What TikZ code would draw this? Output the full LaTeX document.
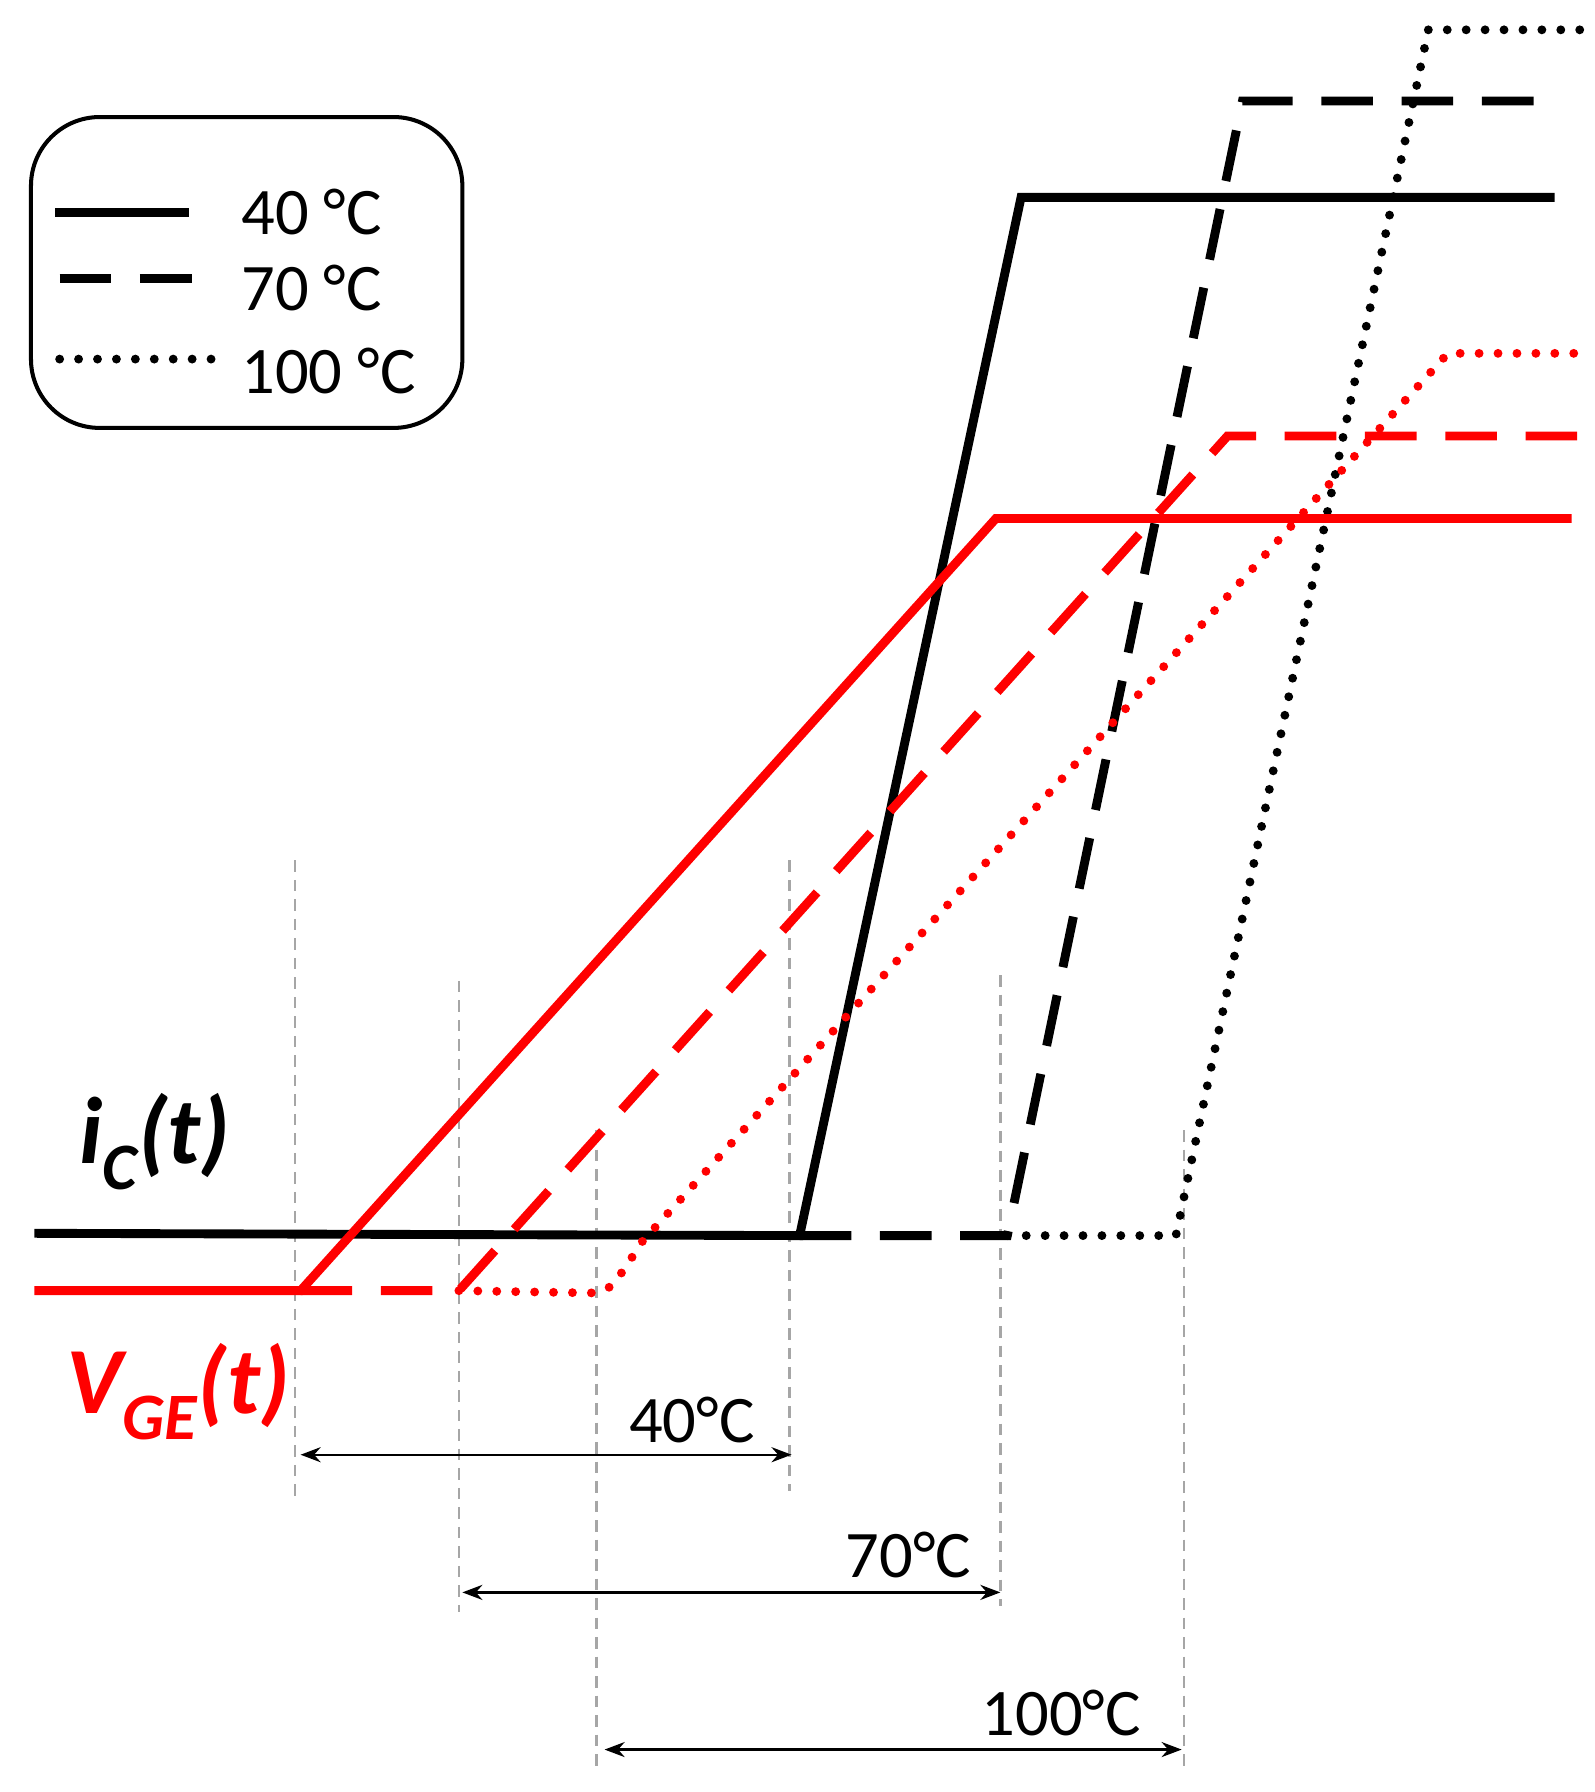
\documentclass[tikz,border=0pt]{standalone}
\usepackage{fontspec}
\setmainfont{Carlito}
\usetikzlibrary{arrows.meta}
\begin{document}
\begin{tikzpicture}[x=0.02cm,y=-0.02cm,
  sig/.style={line width=4.4pt},
  sdash/.style={sig,dash pattern=on 0.9cm off 0.5cm},
  sdot/.style={line width=4.4pt,line cap=round,dash pattern=on 0pt off 0.33cm},
  guide/.style={gray!70,line width=1.2pt,dash pattern=on 0.2cm off 0.14cm},
  dim/.style={line width=1.2pt,{Stealth[length=0.35cm]}-{Stealth[length=0.35cm]}},
  lbl/.style={font=\fontsize{33}{40}\selectfont,inner sep=0pt}]
\useasboundingbox (0,0) rectangle (1390,1562);
% guides
\foreach \x/\a/\b in {257/750/1310,400/855/1405,520/985/1545,688/750/1300,872/850/1400,1032/985/1545}
  \draw[guide] (\x,\a) -- (\x,\b);
% black
\draw[sig] (30,1075) -- (697,1077) -- (890,172) -- (1355,172);
\draw[sdash,black] (697,1077) -- (878,1077) -- (1083,88) -- (1355,88);
\draw[sdot,black] (878,1077) -- (1025,1077) -- (1245,26) -- (1380,26);
% red
\draw[sig,red] (30,1125) -- (262,1125) -- (868,452) -- (1370,452);
\draw[sdash,red] (262,1125) -- (400,1125) -- (1070,380) -- (1375,380);
\draw[sdot,red] (400,1125) -- (515,1127) .. controls (532,1125) .. (560,1082) -- (1262,308) -- (1380,308);
% dimension arrows
\coordinate (a1) at (262,1268); \coordinate (b1) at (690,1268);
\coordinate (a2) at (403,1388); \coordinate (b2) at (872,1388);
\coordinate (a3) at (527,1525); \coordinate (b3) at (1030,1525);
\draw[dim] (a1) -- (b1); \draw[dim] (a2) -- (b2); \draw[dim] (a3) -- (b3);
\node[lbl] (t1) at (603,1238) {40°C};
\node[lbl] (t2) at (792,1355) {70°C};
\node[lbl] (t3) at (925,1493) {100°C};
% signal labels
\node[font=\fontsize{47}{54}\selectfont\bfseries\itshape,inner sep=0pt] (ic) at (135,995) {i\textsubscript{C}(t)};
\node[font=\fontsize{47}{54}\selectfont\bfseries\itshape,text=red,inner sep=0pt] (vge) at (155,1213) {V\textsubscript{GE}(t)};
% legend
\draw[line width=2pt,rounded corners=1.2cm] (27,102) rectangle (403,373);
\draw[sig] (48,185) -- (165,185);
\draw[sig,dash pattern=on 0.9cm off 0.5cm] (52,243) -- (175,243);
\draw[sdot] (52,313) -- (186,313);
\node[lbl,anchor=west] (l1) at (210,185) {40 °C};
\node[lbl,anchor=west] (l2) at (210,251) {70 °C};
\node[lbl,anchor=west] (l3) at (210,323) {100 °C};
\end{tikzpicture}
\end{document}
